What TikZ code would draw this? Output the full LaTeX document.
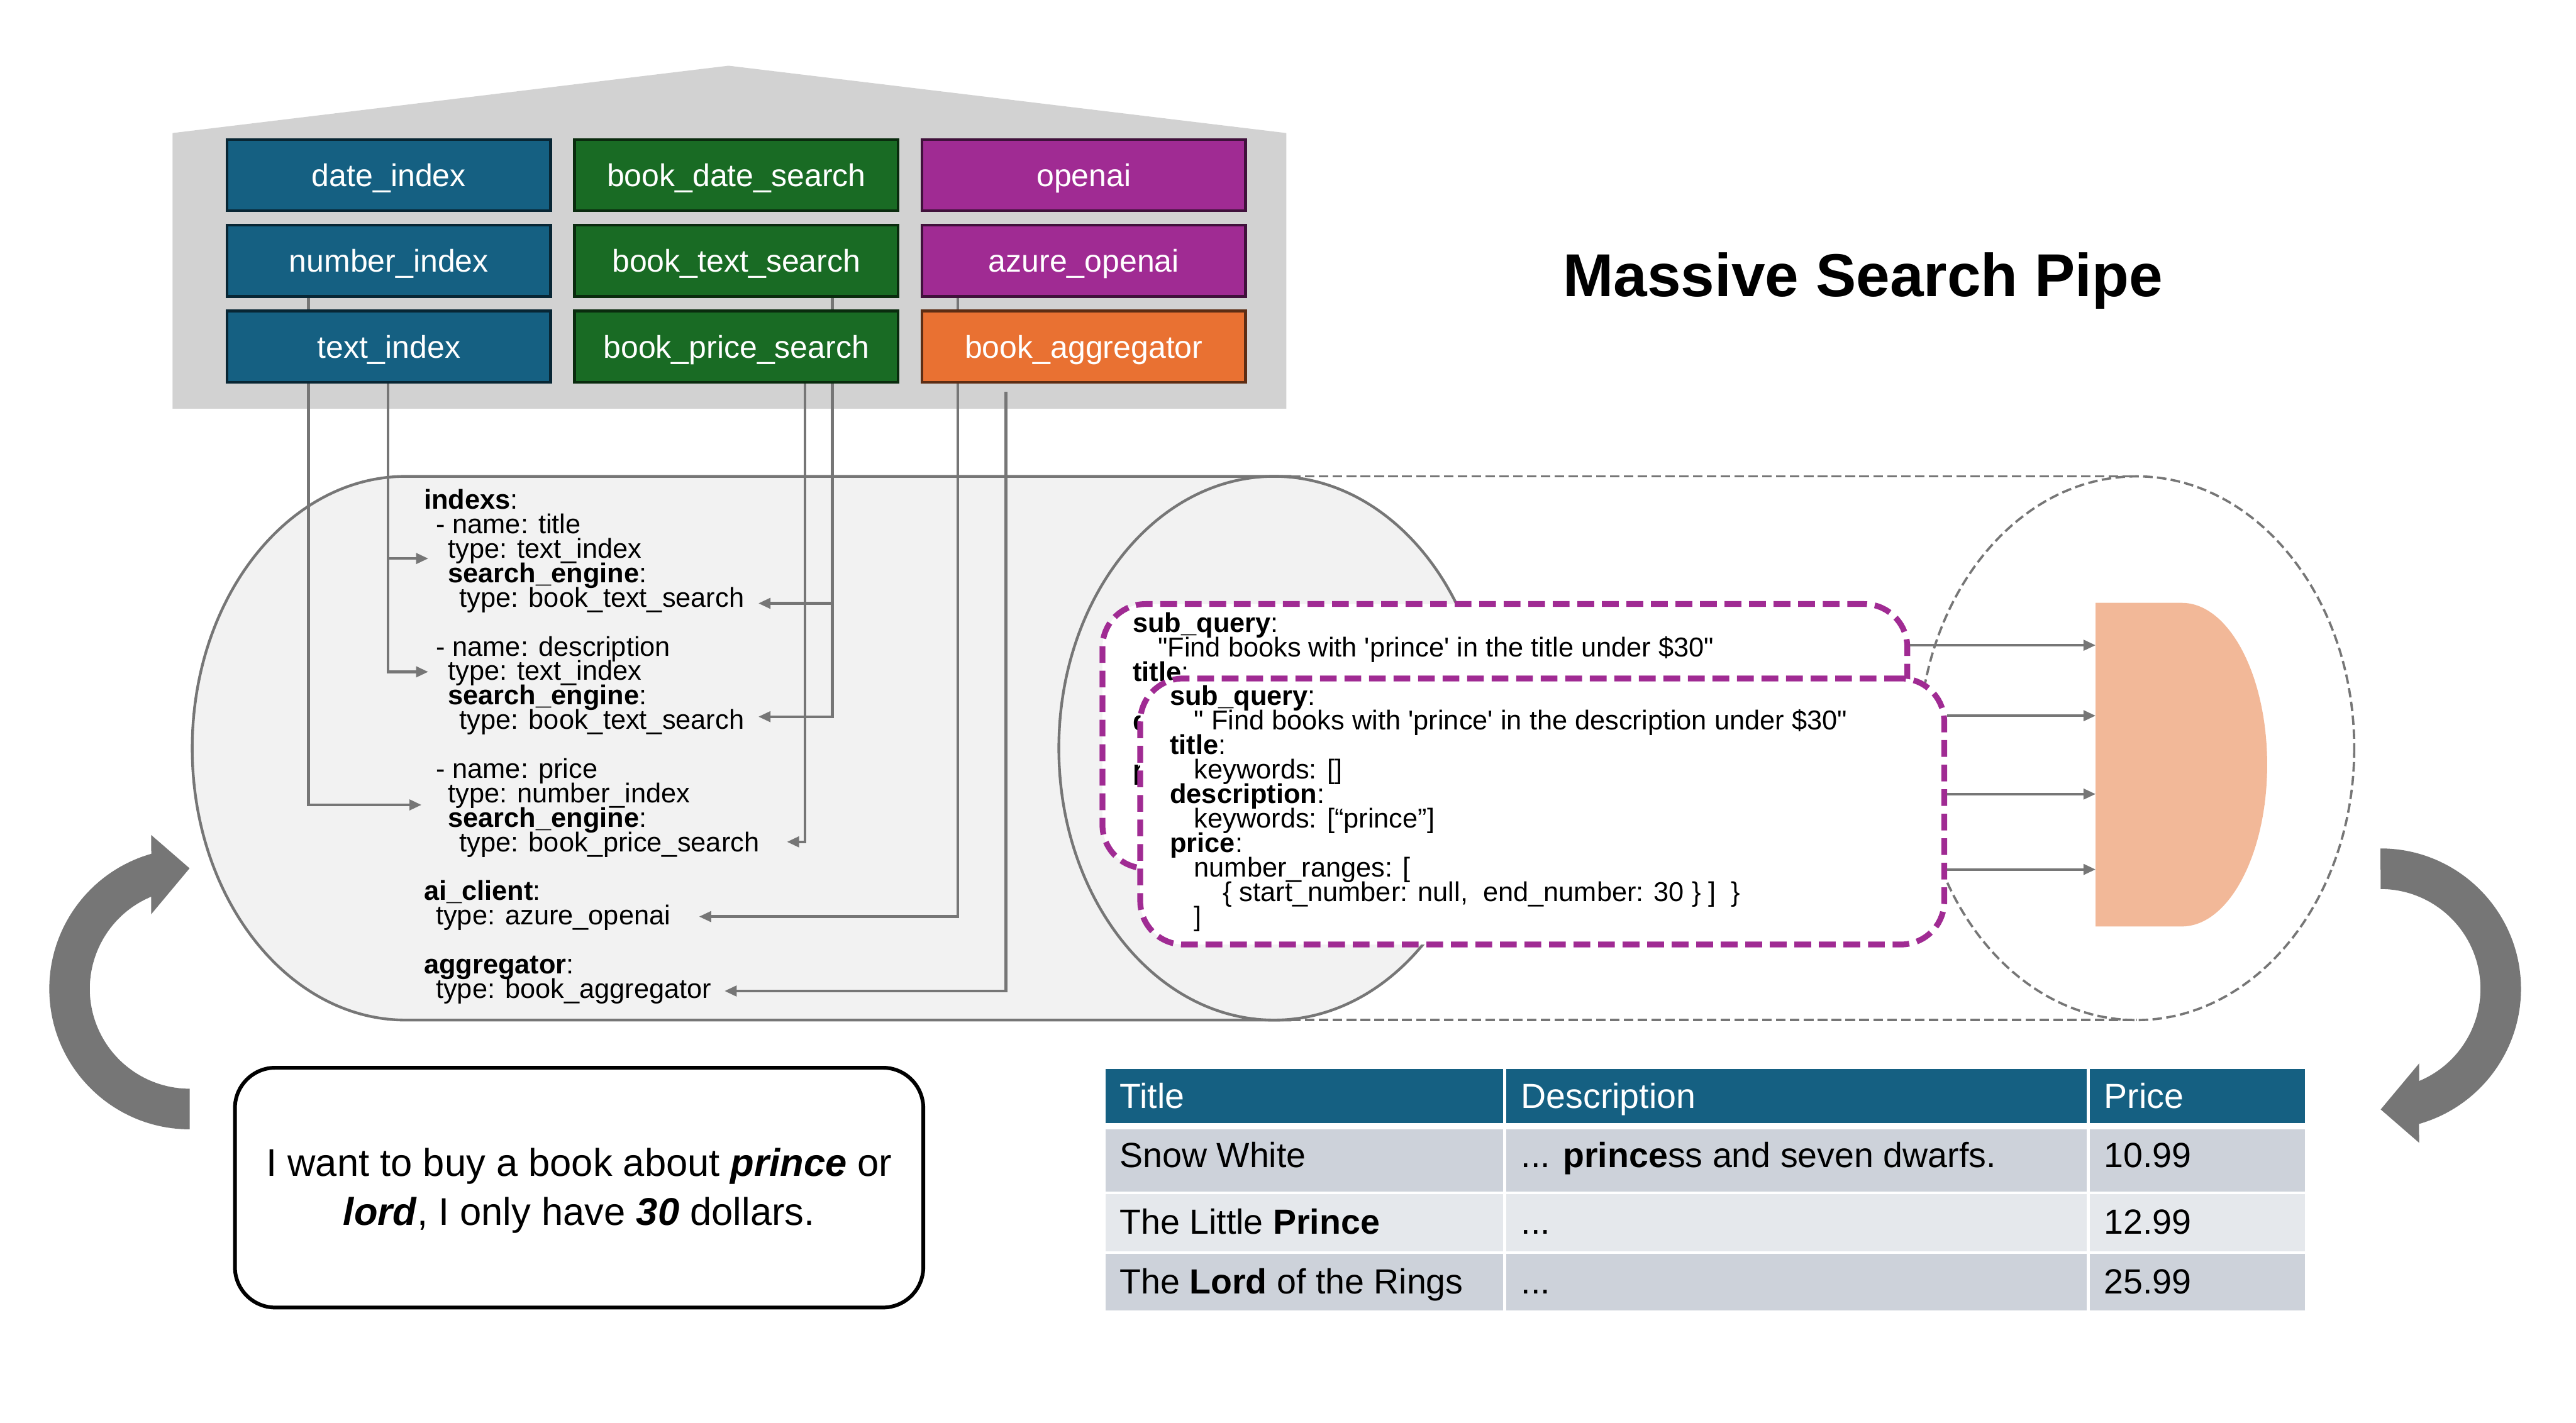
\documentclass[tikz,border=0pt]{standalone}
\usepackage{fontspec}
\setmainfont{Liberation Sans}[Ligatures=TeXOff]
\usetikzlibrary{arrows.meta}
\definecolor{housegray}{HTML}{D2D2D2}
\definecolor{cblue}{HTML}{156082}
\definecolor{cgreen}{HTML}{196B24}
\definecolor{cpurple}{HTML}{A02B93}
\definecolor{corange}{HTML}{E97132}
\definecolor{lgray}{HTML}{767676}
\definecolor{pipefill}{HTML}{F2F2F2}
\definecolor{peach}{HTML}{F2B898}
\definecolor{rowdark}{HTML}{CDD2DA}
\definecolor{rowlight}{HTML}{E5E8EC}
\tikzset{
  hbox/.style={minimum width=3.94cm, minimum height=0.868cm, line width=1pt, text=white,
    font=\fontsize{10.9}{12}\selectfont, inner sep=0pt, text depth=0pt},
  hblue/.style={hbox, fill=cblue, draw=cblue!40!black},
  hgreen/.style={hbox, fill=cgreen, draw=cgreen!40!black},
  hpurple/.style={hbox, fill=cpurple, draw=cpurple!40!black},
  horange/.style={hbox, fill=corange, draw=corange!40!black},
  conn/.style={draw=lgray, line width=0.95pt, -{Triangle[length=4.2pt,width=3.6pt]}},
  pipeline/.style={draw=lgray, line width=0.95pt},
  pipedash/.style={draw=lgray, line width=0.8pt, dash pattern=on 3.3pt off 1.5pt},
  qbox/.style={draw=cpurple, fill=white, line width=2pt, dash pattern=on 5.8pt off 2.7pt, rounded corners=15pt, inner sep=0pt},
  yl/.style={anchor=base west, inner sep=0pt, font=\fontsize{9.45}{10}\selectfont},
  tl/.style={anchor=base west, inner sep=0pt, font=\fontsize{12.1}{14}\selectfont},
  thl/.style={tl, text=white},
}
\newcommand\yline[4]{\node[yl] (#1) at (#2,#3) {#4};}
\begin{document}
\begin{tikzpicture}[x=0.02cm,y=-0.02cm]
\useasboundingbox (0,0) rectangle (1568,866);

% house
\fill[housegray] (105,81) -- (443.5,40) -- (783,81) -- (783,248.8) -- (105,248.8) -- cycle;

% pipe
\fill[pipefill] (247,290) arc[start angle=270, end angle=90, x radius=130, y radius=165.5] -- (775.5,621) -- (775.5,290) -- cycle;
\draw[pipeline, fill=pipefill] (775.5,455.5) ellipse[x radius=131, y radius=165.5];
\draw[pipeline] (786,290) -- (247,290) arc[start angle=270, end angle=90, x radius=130, y radius=165.5] -- (786,621);
\draw[pipedash] (786,290) -- (1300.5,290) (786,621) -- (1300.5,621);
\draw[pipedash] (1300.5,455.5) ellipse[x radius=132.5, y radius=165.5];

% aggregator shape
\fill[peach] (1275.6,367) -- (1328,367) arc[start angle=270, end angle=450, x radius=52, y radius=98.5] -- (1275.6,564) -- cycle;

% house boxes (nodes defined first for connectors, drawn on top later)
\path (236.7,106.6) node[hblue] (di) {date\_index}
      (236.7,158.7) node[hblue] (ni) {number\_index}
      (236.7,211) node[hblue] (ti) {text\_index}
      (448.2,106.6) node[hgreen] (bds) {book\_date\_search}
      (448.2,158.7) node[hgreen] (bts) {book\_text\_search}
      (448.2,211) node[hgreen] (bps) {book\_price\_search}
      (659.7,106.6) node[hpurple] (oa) {openai}
      (659.7,158.7) node[hpurple] (az) {azure\_openai}
      (659.7,211) node[horange] (agg) {book\_aggregator};

% connector targets
\coordinate (jT) at (236.3,340);
\coordinate (tTitle) at (260.7,340);
\coordinate (tDesc) at (260.7,409);
\coordinate (tPrice) at (256.6,490);
\coordinate (jS) at (506.7,367.3);
\coordinate (sTitle) at (461.6,367.3);
\coordinate (sDesc) at (461.6,436.3);
\coordinate (sPrice) at (479,512.5);
\coordinate (sAI) at (425.5,558);
\coordinate (sAgg) at (441,603.3);

\draw[conn] ([xshift=-0.978cm]ni.south) |- (tPrice);
\draw[conn] ([xshift=-0.008cm]ti.south) |- (tDesc);
\draw[conn] (jT) -- (tTitle);
\draw[conn] ([xshift=1.17cm]bts.south) |- (sDesc);
\draw[conn] (jS) -- (sTitle);
\draw[conn] ([xshift=0.834cm]bps.south) |- (sPrice);
\draw[conn] ([xshift=-1.536cm]az.south) |- (sAI);
\draw[conn] ([xshift=-0.948cm,yshift=-0.1cm]agg.south) |- (sAgg);

% redraw boxes on top of connectors
\path (236.7,106.6) node[hblue] {date\_index}
      (236.7,158.7) node[hblue] {number\_index}
      (236.7,211) node[hblue] {text\_index}
      (448.2,106.6) node[hgreen] {book\_date\_search}
      (448.2,158.7) node[hgreen] {book\_text\_search}
      (448.2,211) node[hgreen] {book\_price\_search}
      (659.7,106.6) node[hpurple] {openai}
      (659.7,158.7) node[hpurple] {azure\_openai}
      (659.7,211) node[horange] {book\_aggregator};

% YAML config
\yline{y0}{257.7}{310}{\textbf{indexs}:}
\yline{y1}{265}{324.88}{- name: title}
\yline{y2}{272.4}{339.76}{type: text\_index}
\yline{y3}{272.4}{354.64}{\textbf{search\_engine}:}
\yline{y4}{279.4}{369.52}{type: book\_text\_search}
\yline{y6}{265}{399.28}{- name: description}
\yline{y7}{272.4}{414.16}{type: text\_index}
\yline{y8}{272.4}{429.04}{\textbf{search\_engine}:}
\yline{y9}{279.4}{443.92}{type: book\_text\_search}
\yline{y11}{265}{473.68}{- name: price}
\yline{y12}{272.4}{488.56}{type: number\_index}
\yline{y13}{272.4}{503.44}{\textbf{search\_engine}:}
\yline{y14}{279.4}{518.32}{type: book\_price\_search}
\yline{y16}{257.7}{548.08}{\textbf{ai\_client}:}
\yline{y17}{265}{562.96}{type: azure\_openai}
\yline{y19}{257.7}{592.72}{\textbf{aggregator}:}
\yline{y20}{265}{607.6}{type: book\_aggregator}

% sub query box 1 (mostly hidden behind box 2)
\node[qbox, minimum width=9.8cm, minimum height=3.218cm] (qb1) at (916,448.15) {};
\yline{a0}{689.2}{385}{\textbf{sub\_query}:}
\yline{a1}{704.5}{399.9}{"Find books with 'prince' in the title under \$30"}
\yline{a2}{689.2}{414.8}{\textbf{title}:}
\yline{a4}{689.2}{444.6}{\textbf{d}}
\yline{a6}{689.2}{474.4}{\textbf{p}}

% sub query box 2
\node[qbox, minimum width=9.79cm, minimum height=3.24cm] (qb2) at (938.75,494) {};
\yline{b0}{711.8}{429.5}{\textbf{sub\_query}:}
\yline{b1}{726.5}{444.4}{" Find books with 'prince' in the description under \$30"}
\yline{b2}{711.8}{459.3}{\textbf{title}:}
\yline{b3}{726.5}{474.2}{keywords: []}
\yline{b4}{711.8}{489.1}{\textbf{description}:}
\yline{b5}{726.5}{504}{keywords: [“prince”]}
\yline{b6}{711.8}{518.9}{\textbf{price}:}
\yline{b7}{726.5}{533.8}{number\_ranges: [}
\yline{b8}{744}{548.7}{\{ start\_number: null,\ \ end\_number: 30 \} ]\ \ \}}
\yline{b9}{726.5}{563.6}{]}

% arrows into aggregator
\coordinate (d1) at (1275.6,392.8);
\coordinate (d2) at (1275.6,435.7);
\coordinate (d3) at (1275.6,483.4);
\coordinate (d4) at (1275.6,529.3);
\draw[conn] (qb1.east |- d1) -- (d1);
\draw[conn] (qb2.east |- d2) -- (d2);
\draw[conn] (qb2.east |- d3) -- (d3);
\draw[conn] (qb2.east |- d4) -- (d4);

% circular arrows
\fill[lgray] (115.5,687.5) arc[start angle=90, end angle=254.1, radius=85.5]
  -- (92,508.3) -- (115.4,528.6) -- (92,556.6) -- (92,545.9)
  arc[start angle=247.3, end angle=90, radius=60.8] -- cycle;
\fill[lgray] (1449,516.5) arc[start angle=270, end angle=434.1, radius=85.5]
  -- (1472.5,695.7) -- (1449.1,675.4) -- (1472.5,647.4) -- (1472.5,658.1)
  arc[start angle=427.3, end angle=270, radius=60.8] -- cycle;

% user query
\draw[black, line width=1.3pt, rounded corners=14pt] (143,650) rectangle (562,796);
\node[anchor=base, inner sep=0pt, font=\fontsize{13.4}{16}\selectfont] (q1) at (352.5,716)
  {I want to buy a book about \textbf{\textit{prince}} or};
\node[anchor=base, inner sep=0pt, font=\fontsize{13.4}{16}\selectfont] (q2) at (352.5,745.9)
  {\textbf{\textit{lord}}, I only have \textbf{\textit{30}} dollars.};

% result table
\fill[cblue] (673,650.7) rectangle (1403,683.5);
\fill[rowdark] (673,687.4) rectangle (1403,725.3);
\fill[rowlight] (673,727) rectangle (1403,761.8);
\fill[rowdark] (673,763.2) rectangle (1403,797.9);
\draw[white, line width=1.1pt] (916,650) -- (916,798.5) (1271,650) -- (1271,798.5);
\node[thl] (h1) at (681.2,674.7) {Title};
\node[thl] (h2) at (925.5,674.7) {Description};
\node[thl] (h3) at (1280.4,674.7) {Price};
\node[tl] (r11) at (681.2,710.5) {Snow White};
\node[tl] (r12) at (925.5,710.5) {... \textbf{prince}ss and seven dwarfs.};
\node[tl] (r13) at (1280.4,710.5) {10.99};
\node[tl] (r21) at (681.2,751.2) {The Little \textbf{Prince}};
\node[tl] (r22) at (925.5,751.2) {...};
\node[tl] (r23) at (1280.4,751.2) {12.99};
\node[tl] (r31) at (681.2,787.5) {The \textbf{Lord} of the Rings};
\node[tl] (r32) at (925.5,787.5) {...};
\node[tl] (r33) at (1280.4,787.5) {25.99};

% title
\node[anchor=base, inner sep=0pt, font=\fontsize{21}{24}\selectfont\bfseries] (title) at (1134,180.5) {Massive Search Pipe};
\end{tikzpicture}
\end{document}
